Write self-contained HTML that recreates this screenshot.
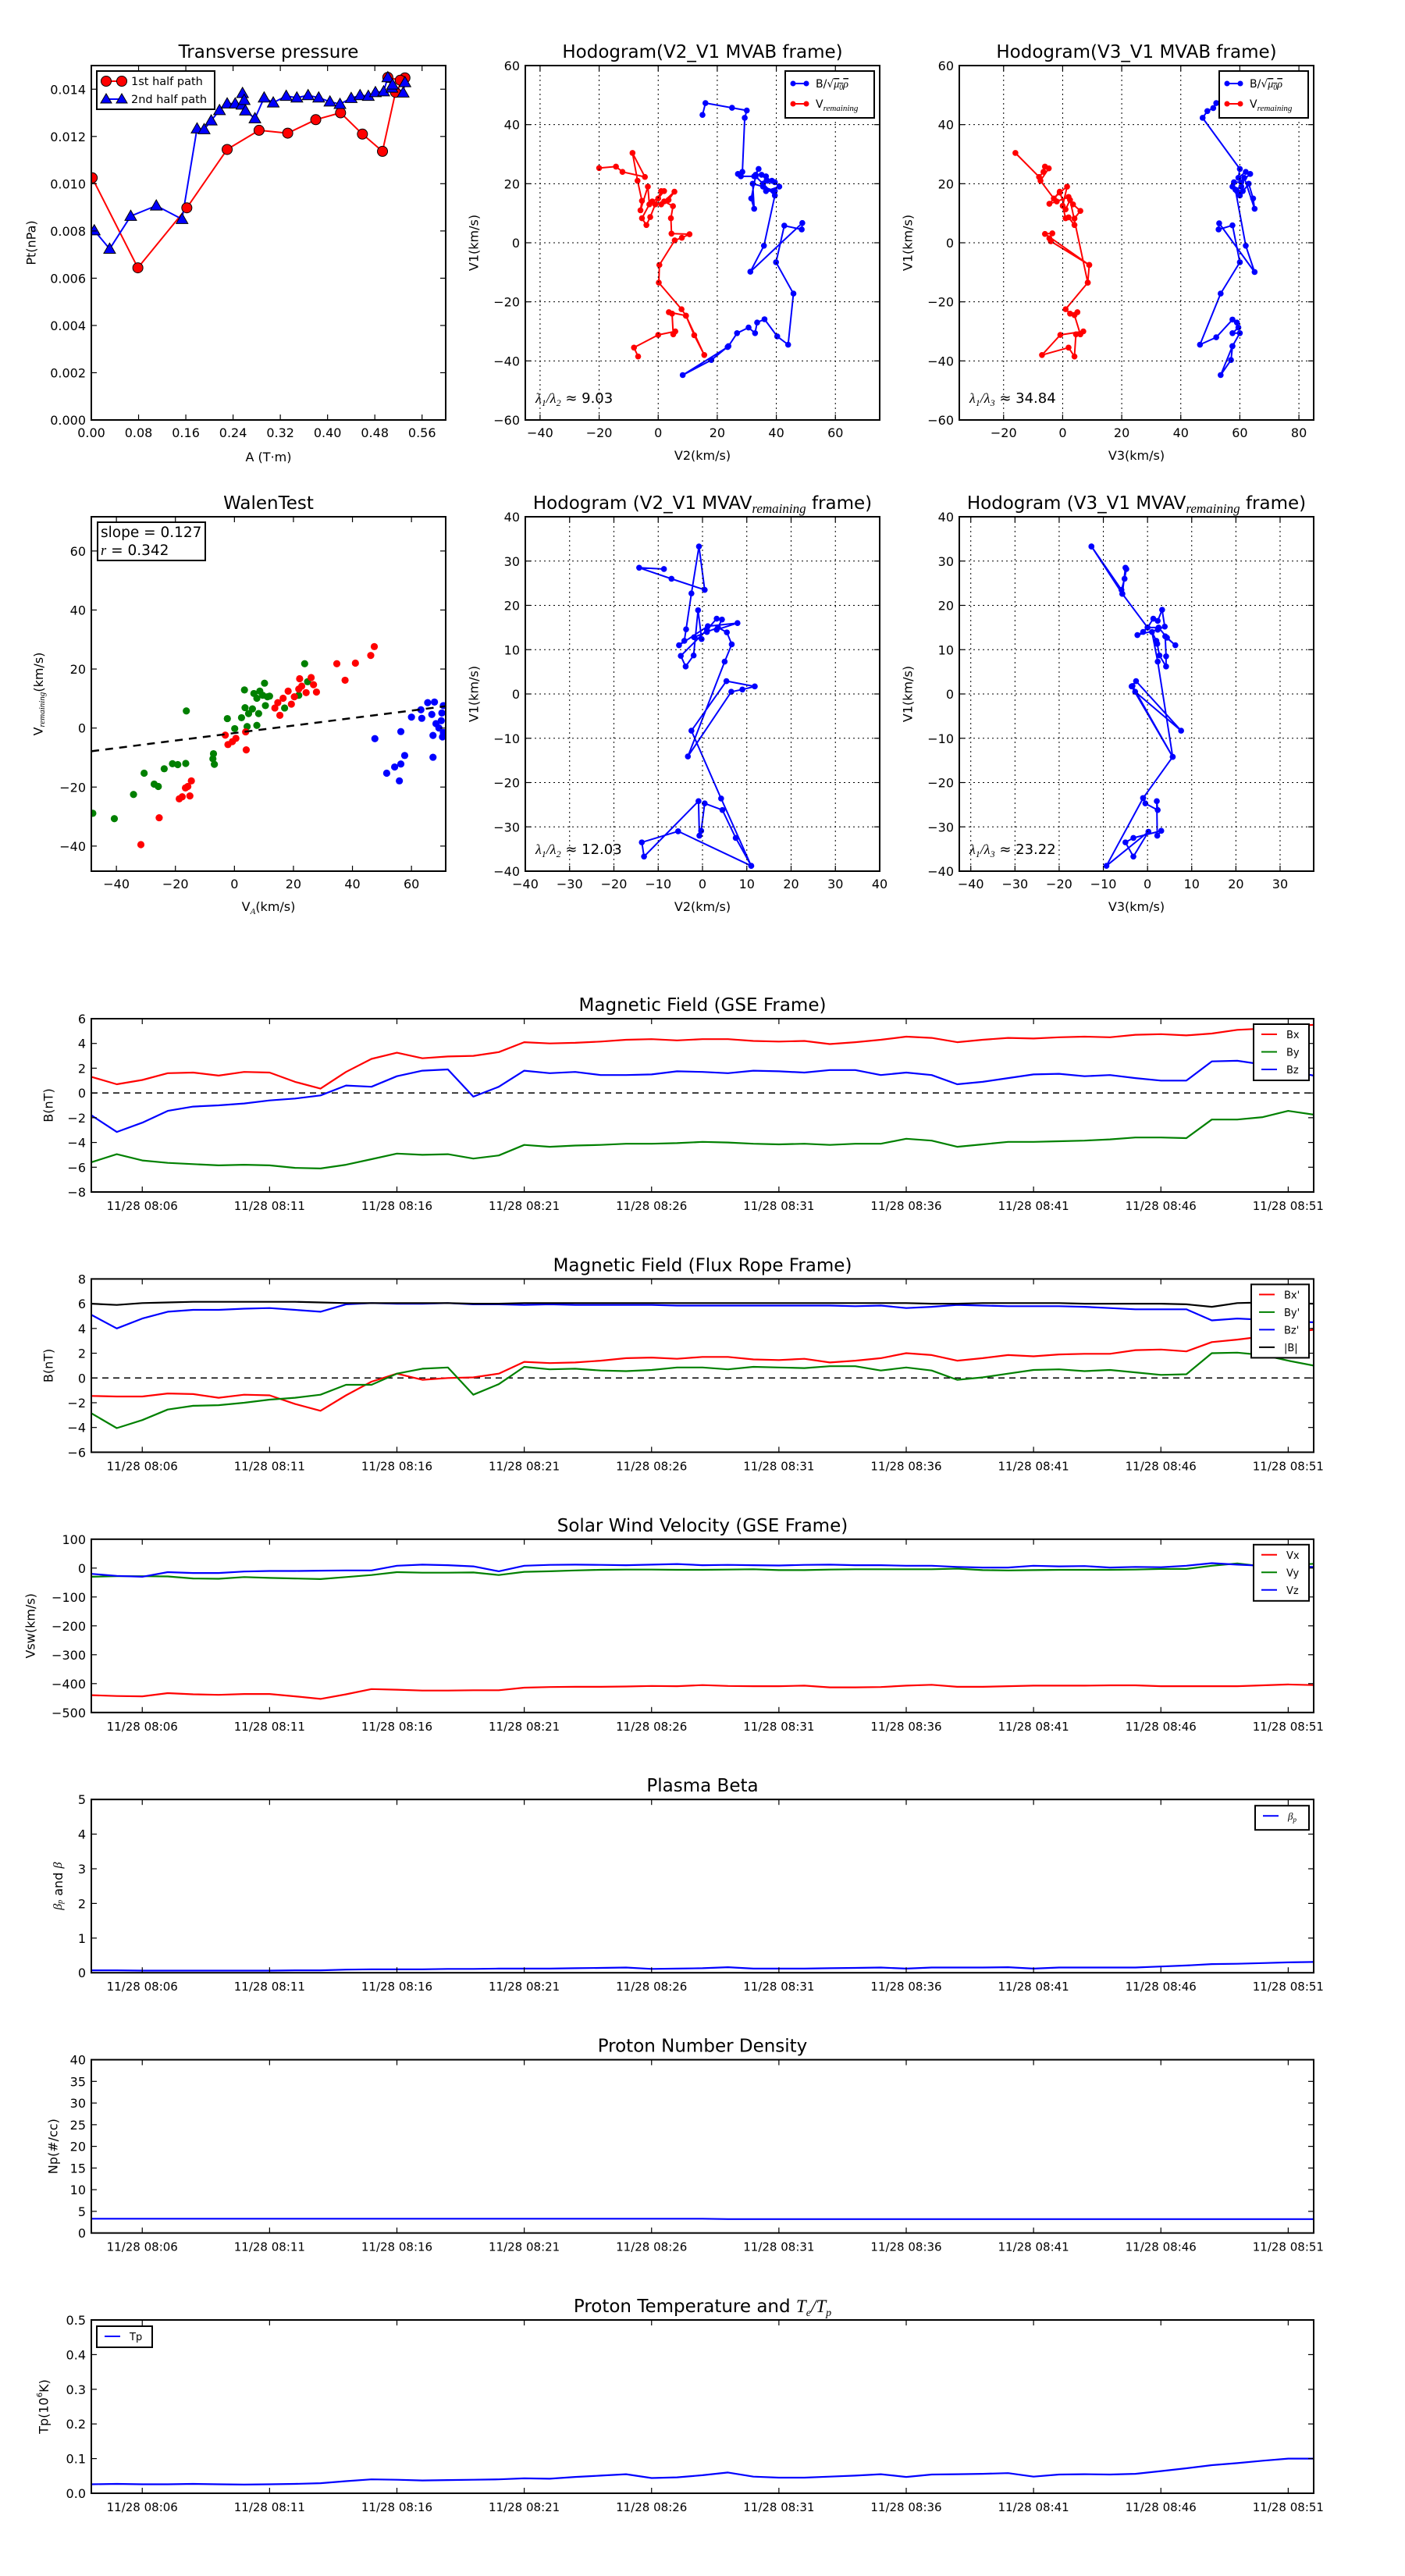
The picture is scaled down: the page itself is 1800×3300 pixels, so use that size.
<!DOCTYPE html>
<html><head><meta charset="utf-8"><title>Flux rope analysis</title>
<style>
html,body{margin:0;padding:0;background:#fff;}
svg{display:block;font-family:"DejaVu Sans","Liberation Sans",sans-serif;}
</style></head>
<body>
<svg id="fig" xmlns="http://www.w3.org/2000/svg" width="1800" height="3300" viewBox="0 0 1800 3300">
<rect x="0" y="0" width="1800" height="3300" fill="#fff"/>
</svg>
<script>
// ---------- data: transverse pressure ----------
const ptA1 = [0.0015,0.0788,0.1617,0.230,0.284,0.3325,0.380,0.422,0.459,0.493,0.515,0.531,0.523,0.502];
const ptP1 = [0.01025,0.00644,0.00898,0.01145,0.01226,0.01214,0.01271,0.0130,0.0121,0.01137,0.01387,0.01448,0.01438,0.0145];
const ptA2 = [0.005,0.031,0.0667,0.110,0.1536,0.179,0.191,0.203,0.217,0.230,0.2436,0.255,0.256,0.2588,0.261,0.277,0.2926,0.308,0.33,0.348,0.367,0.385,0.404,0.421,0.44,0.455,0.469,0.481,0.495,0.502,0.509,0.51,0.528,0.531];
const ptP2 = [0.00802,0.00724,0.00863,0.00907,0.0085,0.01233,0.0123,0.01267,0.01311,0.01339,0.01339,0.01334,0.01383,0.01354,0.01309,0.01276,0.01364,0.01343,0.01371,0.01364,0.01374,0.01364,0.01347,0.01337,0.01362,0.01374,0.01371,0.01387,0.0139,0.0145,0.01406,0.01419,0.01385,0.01429];
// ---------- data: MVAB hodograms ----------
const h1BlueX = [15,16,25,30,29.3,28.5,27,28,32.5,34,33,35,36.5,35.5,37,38.5,39.5,41,36.5,39.5,35.5,32,32.5,31.5,33,39.5,35.8,31.2,48.8,48.6,42.7,39.9,45.8,44,40.3,36,33.5,32.8,30.6,26.7,23.8,18,8.3,23.5];
const h1BlueY = [43.3,47.3,45.7,44.8,42.3,24,23.3,22.5,22.5,25,23,23,22.5,20,21,21,20.5,19,17.5,17.5,19,20,11.5,15,22.5,16,-1,-9.8,6.7,4.5,5.8,-6.6,-17.2,-34.5,-31.7,-25.9,-27,-30.6,-28.7,-30.6,-35,-39.7,-44.8,-35.3];
const h1RedX = [-20,-14.3,-12.1,-4.5,-8.7,-7,-5.5,-6,-3.5,-3,-5.5,-4,-2.7,-1,1,2,0,-2,1,3.5,5.5,2,5,4.3,4.5,10.6,8,5.6,0.4,0.2,7.9,9.4,12.2,15.6,9.4,3.6,4.7,5.1,5.8,0,-8.2,-6.8];
const h1RedY = [25.3,25.8,24,22.3,30.4,21,14.2,11,19,13,8.3,6,8.7,13,17.5,17.5,15,14,13,14.5,17.3,14,12.4,8.3,3.1,2.9,1.7,0.8,-7.5,-13.5,-22.5,-24.7,-31.3,-38,-24.7,-23.5,-24,-31,-30,-31.2,-35.5,-38.5];
const h2BlueX = [53.5,52,51,49,47.4,60,59.5,62,63.5,60.5,58,57.5,59,61,60,63,64.5,65,61.5,60.5,58.5,62,65,53,52.8,57.5,60,53.5,46.5,52,57.5,59,59.5,57.5,60,57.5,57,53.5,57.5];
const h2BlueY = [47.6,47.3,45.6,44.6,42.3,25,22,24,23.3,20.5,20.5,19,17.5,17.5,16,20,15,11.5,22,19,18,-1,-9.9,6.6,4.5,5.9,-6.6,-17.2,-34.5,-32,-26,-27,-28.7,-30.6,-30.6,-35,-39.7,-44.8,-35];
const h2RedX = [-16,-8,-6.5,-6,-4.7,-7.5,-3,-1,1.5,0,1,2,4,4,6,3.5,2,-2,-4.5,-1,1,2.5,8.5,9,-6,-3.5,-4.5,-4,9,8.5,1,2.5,5,4,6,7,-0.8,-7,2,4,4.5];
const h2RedY = [30.4,22.3,24,25.8,25.2,21,15,17,19,12.5,8.3,8.6,6,8.2,10.8,13,15.5,14,13.2,17.3,11.3,14.5,-13.5,-7.5,3,3.2,1.5,0.5,-7.5,-13.5,-22.5,-24,-23.5,-24.5,-31,-30,-31.2,-38,-35.5,-38.5,-31];
// ---------- data: Walen test ----------
const walGreenX = [-48,-40.7,-34.2,-30.6,-27.2,-25.8,-23.8,-21,-19.2,-16.5,-16.3,-7.1,-7.3,-6.8,-2.4,0.1,2.4,3.6,4.3,4.8,6.1,7.6,8.2,3.4,6.6,7.6,8.6,9.6,10.2,10.5,11.2,11.9,17,21.8,23.8,24.8];
const walGreenY = [-28.9,-30.7,-22.5,-15.3,-19,-19.8,-13.8,-12.1,-12.4,-12,5.8,-8.7,-10.4,-12.3,3.2,-0.2,3.5,6.9,0.5,4.9,6.5,0.9,4.9,12.9,11.7,10.1,12.5,11.1,15.2,7.6,10.6,10.8,6.8,11.1,21.8,15.7];
const walRedX = [-31.7,-25.5,-18.7,-17.7,-16.6,-15.1,-14.6,-15.8,-3.1,-2.2,-0.7,0.5,3.8,4,13.7,14.7,15.4,16.5,18.2,19.3,20.3,21.8,22.1,22.8,24.3,26,26.8,27.8,34.7,37.5,41,46.2,47.4];
const walRedY = [-39.5,-30.4,-24,-23.3,-20.3,-23,-17.9,-19.8,-2.4,-5.6,-4.6,-3.5,-1.3,-7.4,6.8,8.6,4.3,10.1,12.5,8.1,10.6,13.2,16.7,14.2,12,17.1,14.7,12.2,21.8,16.2,22,24.6,27.6];
const walBlueX = [47.6,51.6,54.3,55.9,56.4,57.7,56.4,60,63.2,63.5,65.5,66.9,67.8,67.3,67.3,68.3,69.3,70.3,70.8,70.8,70.5,70.1];
const walBlueY = [-3.6,-15.3,-13.2,-17.9,-12.2,-9.3,-1.2,3.7,6.2,3.3,8.6,4.6,8.8,-2.5,-9.9,1.5,0,5.1,-1.5,7.6,-3,2.5];
const walSlope = 0.127;
const walIntercept = -1.7;
// ---------- data: MVAV hodograms ----------
const h3X = [11,7.5,4.5,0.5,-0.3,-0.7,-0.9,-13.2,-13.7,-5.5,11,4.2,-2.5,5.4,11.8,9,6.5,-3.3,5,6.6,5.5,3.5,1,-1.9,-0.2,-1,-2,-3.8,-4.9,1,3.2,4.4,3.2,7.9,1.2,-5.3,-4.1,-3.7,-2.5,-0.8,0.5,-7,-14.3,-8.7];
const h3Y = [-38.8,-32.5,-26.2,-24.7,-30.9,-32,-24.2,-36.7,-33.5,-31,-38.8,-23.6,-8.3,2.9,1.7,1,0.5,-14.1,7.3,11.2,13.9,15,14,12.8,12.4,18.9,8.7,6.2,8.6,14.5,17,16.8,14.5,16,15.3,11,12,14.6,22.7,33.3,23.5,26,28.5,28.2];
const h4X = [-12.7,-5.9,-5.2,-4.8,-5,-5.7,-12.7,-5.7,0,1.3,2.3,3.3,3.9,2.3,-2.3,-1,0,2.5,4.4,6.3,4,4.2,4.2,2.7,2.2,2,1,2.3,5.7,-3.6,-2.6,7.6,-2.8,-3.4,5.7,-1,-0.5,2.3,2.1,2.2,3.1,-3.2,-5,-3.2,0.2,-9.3,-1];
const h4Y = [33.3,23.5,26,28.2,28.5,22.6,33.3,22.6,15,17,16.5,19,15.2,14.5,13.3,14,15,15,12.7,11,13,8.5,6.2,8.7,11.3,12,14,7.3,-14.2,1.7,2.9,-8.3,0.5,1.8,-14.2,-23.5,-24.7,-26.2,-24.2,-32,-30.9,-32.5,-33.5,-36.7,-31.1,-38.8,-23.5];
// ---------- data: time series (minutes after 08:04) ----------
const tickMinutes = [2,7,12,17,22,27,32,37,42,47];
const tickLabels = ["11/28 08:06","11/28 08:11","11/28 08:16","11/28 08:21","11/28 08:26","11/28 08:31","11/28 08:36","11/28 08:41","11/28 08:46","11/28 08:51"];
const gseBx = [1.3,0.7,1.05,1.6,1.65,1.4,1.7,1.65,0.9,0.35,1.7,2.75,3.25,2.8,2.95,3.0,3.3,4.1,4.0,4.05,4.15,4.3,4.35,4.25,4.35,4.35,4.2,4.15,4.2,3.95,4.1,4.3,4.55,4.45,4.1,4.3,4.45,4.4,4.5,4.55,4.5,4.7,4.75,4.65,4.8,5.1,5.2,5.4,5.5];
const gseBy = [-5.6,-4.95,-5.45,-5.65,-5.75,-5.85,-5.8,-5.85,-6.05,-6.1,-5.8,-5.35,-4.9,-5.0,-4.95,-5.3,-5.05,-4.2,-4.35,-4.25,-4.2,-4.1,-4.1,-4.05,-3.95,-4.0,-4.1,-4.15,-4.1,-4.2,-4.1,-4.1,-3.7,-3.85,-4.35,-4.15,-3.95,-3.95,-3.9,-3.85,-3.75,-3.6,-3.6,-3.65,-2.15,-2.15,-1.95,-1.45,-1.75];
const gseBz = [-1.8,-3.15,-2.4,-1.45,-1.1,-1.0,-0.85,-0.6,-0.45,-0.2,0.6,0.5,1.35,1.8,1.9,-0.3,0.5,1.8,1.6,1.7,1.45,1.45,1.5,1.75,1.7,1.6,1.8,1.75,1.65,1.85,1.85,1.45,1.65,1.45,0.7,0.9,1.2,1.5,1.55,1.35,1.45,1.2,1.0,1.0,2.55,2.6,2.3,1.8,1.4];
const frBx = [-1.45,-1.5,-1.5,-1.25,-1.3,-1.6,-1.35,-1.4,-2.1,-2.65,-1.4,-0.3,0.35,-0.15,0.0,0.05,0.35,1.3,1.2,1.25,1.4,1.6,1.65,1.55,1.7,1.7,1.5,1.45,1.55,1.25,1.4,1.6,2.0,1.85,1.4,1.6,1.85,1.75,1.9,1.95,1.95,2.25,2.3,2.15,2.9,3.1,3.35,3.6,3.9];
const frBy = [-2.85,-4.05,-3.4,-2.55,-2.25,-2.2,-2.0,-1.75,-1.6,-1.35,-0.55,-0.55,0.35,0.75,0.85,-1.35,-0.5,0.9,0.7,0.75,0.6,0.55,0.65,0.85,0.85,0.7,0.9,0.85,0.8,0.95,0.95,0.6,0.85,0.6,-0.15,0.05,0.35,0.65,0.7,0.55,0.65,0.45,0.25,0.3,2.0,2.05,1.85,1.4,1.0];
const frBz = [5.1,4.0,4.8,5.35,5.5,5.5,5.6,5.65,5.5,5.35,5.95,6.05,6.0,6.0,6.05,5.95,5.95,5.9,5.95,5.9,5.9,5.9,5.9,5.85,5.85,5.85,5.85,5.85,5.85,5.85,5.8,5.85,5.65,5.75,5.9,5.85,5.8,5.8,5.8,5.75,5.65,5.55,5.55,5.55,4.65,4.8,4.7,4.55,4.5];
const frBmag = [6.0,5.9,6.05,6.1,6.15,6.15,6.15,6.15,6.15,6.1,6.05,6.05,6.05,6.05,6.05,6.0,6.0,6.05,6.05,6.05,6.05,6.05,6.05,6.05,6.05,6.05,6.05,6.05,6.05,6.05,6.05,6.05,6.05,6.0,6.0,6.05,6.05,6.05,6.05,6.0,6.0,6.0,6.0,5.95,5.75,6.05,6.1,6.05,6.0];
const swVx = [-440,-443,-444,-433,-437,-439,-436,-436,-444,-453,-437,-419,-421,-424,-424,-423,-423,-414,-412,-411,-411,-410,-408,-409,-405,-408,-409,-409,-407,-413,-413,-412,-407,-404,-411,-411,-409,-407,-407,-407,-406,-406,-409,-409,-409,-409,-406,-403,-405];
const swVy = [-30,-28,-28,-29,-36,-37,-31,-34,-36,-38,-31,-24,-14,-16,-16,-15,-24,-13,-11,-8,-6,-5,-5,-6,-6,-5,-4,-7,-7,-5,-4,-4,-4,-4,-2,-7,-8,-7,-6,-6,-6,-5,-3,-3,8,16,6,10,15];
const swVz = [-20,-27,-30,-14,-17,-17,-12,-10,-10,-9,-8,-8,8,12,10,6,-11,8,11,12,11,10,12,14,10,11,10,9,11,12,10,10,8,8,4,2,2,8,6,7,2,4,3,8,17,12,8,5,4];
const betaP = [0.07,0.07,0.06,0.06,0.06,0.06,0.06,0.06,0.07,0.07,0.09,0.10,0.10,0.10,0.11,0.11,0.12,0.12,0.12,0.13,0.14,0.15,0.11,0.12,0.13,0.16,0.12,0.12,0.12,0.13,0.14,0.15,0.12,0.15,0.15,0.15,0.16,0.12,0.15,0.15,0.15,0.15,0.18,0.21,0.25,0.26,0.28,0.30,0.31];
const densNp = [3.3,3.3,3.3,3.3,3.3,3.3,3.3,3.3,3.3,3.3,3.3,3.3,3.3,3.3,3.3,3.3,3.3,3.3,3.3,3.3,3.3,3.3,3.3,3.3,3.3,3.2,3.2,3.2,3.2,3.2,3.2,3.2,3.2,3.2,3.2,3.2,3.2,3.2,3.2,3.2,3.2,3.2,3.2,3.2,3.2,3.2,3.2,3.2,3.2];
const tempTp = [0.026,0.027,0.026,0.026,0.027,0.026,0.025,0.026,0.027,0.029,0.035,0.040,0.039,0.037,0.038,0.039,0.040,0.043,0.042,0.047,0.051,0.055,0.044,0.046,0.052,0.060,0.048,0.045,0.045,0.048,0.051,0.055,0.047,0.054,0.055,0.056,0.058,0.048,0.054,0.055,0.054,0.056,0.064,0.072,0.081,0.087,0.094,0.100,0.100];

// ---------- drawing helpers ----------
const NS = "http://www.w3.org/2000/svg";
const fig = document.getElementById('fig');
let clipId = 0;
function mk(tag, attrs, parent) {
  const e = document.createElementNS(NS, tag);
  for (const k in attrs) e.setAttribute(k, attrs[k]);
  (parent || fig).appendChild(e);
  return e;
}
function fmt(v, d) { const s = v.toFixed(d); return s.replace('-', '\u2212'); }
function txt(parent, x, y, s, size, anchor, name, extra) {
  const t = mk('text', Object.assign({x: x, y: y, 'font-size': size, 'text-anchor': anchor || 'middle', fill: '#000'}, extra || {}), parent);
  
  
  t.innerHTML = s;
  return t;
}
function makeAxes(name, x0, y0, w, h, xmin, xmax, ymin, ymax) {
  const g = mk('g', {});
  
  
  const sx = v => x0 + (v - xmin) / (xmax - xmin) * w;
  const sy = v => y0 + h - (v - ymin) / (ymax - ymin) * h;
  clipId++;
  const cp = mk('clipPath', {id: 'clip' + clipId}, g);
  mk('rect', {x: x0, y: y0, width: w, height: h}, cp);
  const plot = mk('g', {'clip-path': 'url(#clip' + clipId + ')'}, g);
  
  
  return {g, plot, sx, sy, x0, y0, w, h};
}
function xTicks(ax, vals, labels, size, grid, dy) {
  vals.forEach((v, i) => {
    const x = ax.sx(v);
    if (grid) {
      const gl = mk('line', {x1: x, y1: ax.y0, x2: x, y2: ax.y0 + ax.h, stroke: '#000', 'stroke-width': 1, 'stroke-dasharray': '2,4'}, ax.g);
      
      
    }
    const t1 = mk('line', {x1: x, y1: ax.y0 + ax.h, x2: x, y2: ax.y0 + ax.h - 7, stroke: '#000', 'stroke-width': 1.2}, ax.g);
    
    
    const t2 = mk('line', {x1: x, y1: ax.y0, x2: x, y2: ax.y0 + 7, stroke: '#000', 'stroke-width': 1.2}, ax.g);
    
    
    txt(ax.g, x, ax.y0 + ax.h + (dy || 22), labels[i], size, 'middle', 'x-tick-label');
  });
}
function yTicks(ax, vals, labels, size, grid) {
  vals.forEach((v, i) => {
    const y = ax.sy(v);
    if (grid) {
      const gl = mk('line', {x1: ax.x0, y1: y, x2: ax.x0 + ax.w, y2: y, stroke: '#000', 'stroke-width': 1, 'stroke-dasharray': '2,4'}, ax.g);
      
      
    }
    const t1 = mk('line', {x1: ax.x0, y1: y, x2: ax.x0 + 7, y2: y, stroke: '#000', 'stroke-width': 1.2}, ax.g);
    
    
    const t2 = mk('line', {x1: ax.x0 + ax.w, y1: y, x2: ax.x0 + ax.w - 7, y2: y, stroke: '#000', 'stroke-width': 1.2}, ax.g);
    
    
    txt(ax.g, ax.x0 - 7, y + 6, labels[i], size, 'end', 'y-tick-label');
  });
}
function frame(ax) {
  const r = mk('rect', {x: ax.x0, y: ax.y0, width: ax.w, height: ax.h, fill: 'none', stroke: '#000', 'stroke-width': 2}, ax.g);
  
  
}
function titles(ax, title, xl, yl, yoff, xoff) {
  txt(ax.g, ax.x0 + ax.w / 2, ax.y0 - 10, title, 23, 'middle', 'chart-title');
  if (xl) txt(ax.g, ax.x0 + ax.w / 2, ax.y0 + ax.h + (xoff || 53), xl, 16, 'middle', 'x-axis-title');
  const cx = ax.x0 - yoff, cy = ax.y0 + ax.h / 2;
  txt(ax.g, cx, cy, yl, 16, 'middle', 'y-axis-title', {transform: 'rotate(-90 ' + cx + ' ' + cy + ')', 'dominant-baseline': 'middle'});
}
function series(ax, xs, ys, color, name, width) {
  const pts = xs.map((x, i) => ax.sx(x).toFixed(1) + ',' + ax.sy(ys[i]).toFixed(1)).join(' ');
  const p = mk('polyline', {points: pts, fill: 'none', stroke: color, 'stroke-width': width || 2, 'stroke-linejoin': 'round'}, ax.plot);
  
  
  return p;
}
function dots(ax, xs, ys, color, r, name, stroke) {
  xs.forEach((x, i) => {
    const c = mk('circle', {cx: ax.sx(x), cy: ax.sy(ys[i]), r: r, fill: color, stroke: stroke || 'none', 'stroke-width': 1}, ax.plot);
    
    
  });
}
function tris(ax, xs, ys, color, s, name) {
  xs.forEach((x, i) => {
    const cx = ax.sx(x), cy = ax.sy(ys[i]);
    const t = mk('polygon', {points: (cx) + ',' + (cy - s) + ' ' + (cx - s) + ',' + (cy + s * 0.75) + ' ' + (cx + s) + ',' + (cy + s * 0.75), fill: color, stroke: '#000', 'stroke-width': 1}, ax.plot);
    
    
  });
}
function range(a, b, s) { const r = []; for (let v = a; v <= b + 1e-9; v += s) r.push(Math.round(v * 1e6) / 1e6); return r; }
function legendBox(ax, x, y, w, h, name) {
  const g = mk('g', {}, ax.g);
  
  
  mk('rect', {x: x, y: y, width: w, height: h, fill: '#fff', stroke: '#000', 'stroke-width': 2}, g);
  return g;
}
function legLine(g, x, y, len, color, label, size, marker, name) {
  const e = mk('g', {}, g);
  
  
  mk('line', {x1: x, y1: y, x2: x + len, y2: y, stroke: color, 'stroke-width': 2}, e);
  if (marker === 'dot') { mk('circle', {cx: x, cy: y, r: 3.5, fill: color}, e); mk('circle', {cx: x + len, cy: y, r: 3.5, fill: color}, e); }
  if (marker === 'big') { mk('circle', {cx: x, cy: y, r: 6.5, fill: color, stroke: '#000'}, e); mk('circle', {cx: x + len, cy: y, r: 6.5, fill: color, stroke: '#000'}, e); }
  if (marker === 'tri') { [x, x + len].forEach(cx => mk('polygon', {points: cx + ',' + (y - 7) + ' ' + (cx - 7) + ',' + (y + 5) + ' ' + (cx + 7) + ',' + (y + 5), fill: color, stroke: '#000'}, e)); }
  const t = mk('text', {x: x + len + 12, y: y + 5, 'font-size': size, fill: '#000'}, e);
  t.innerHTML = label;
}
const SUBR = '<tspan font-family="Liberation Serif,serif" font-style="italic" font-size="11" dy="4">remaining</tspan>';
const BMU = 'B/\u221A<tspan font-family="Liberation Serif,serif" font-style="italic" text-decoration="overline">\u03BC<tspan font-size="10" dy="3">0</tspan><tspan dy="-3">\u03C1</tspan></tspan>';

// ---------- Panel 1: transverse pressure ----------
(function () {
  const ax = makeAxes('transverse-pressure-chart', 117, 84, 454, 454, 0, 0.6, 0, 0.015);
  series(ax, ptA1, ptP1, '#f00', 'first-half-path-line', 2);
  series(ax, ptA2, ptP2, '#00f', 'second-half-path-line', 2);
  dots(ax, ptA1, ptP1, '#f00', 6.5, 'first-half-point', '#000');
  tris(ax, ptA2, ptP2, '#00f', 7.5, 'second-half-point');
  frame(ax);
  const xv = range(0, 0.56, 0.08);
  xTicks(ax, xv, xv.map(v => v.toFixed(2)), 16, false);
  const yv = range(0, 0.014, 0.002);
  yTicks(ax, yv, yv.map(v => v.toFixed(3)), 16, false);
  titles(ax, 'Transverse pressure', 'A (T\u00B7m)', 'Pt(nPa)', 76);
  const lg = legendBox(ax, 124, 91, 151, 49, 'legend');
  legLine(lg, 136, 104, 20, '#f00', '1st half path', 14.5, 'big', 'legend-entry-1st-half');
  legLine(lg, 136, 127, 20, '#00f', '2nd half path', 14.5, 'tri', 'legend-entry-2nd-half');
})();

function hodo(name, x0, y0, xmin, xmax, ymin, ymax, xt, yt, blueX, blueY, redX, redY, title, xl, lam, legend) {
  const ax = makeAxes(name, x0, y0, 454, 454, xmin, xmax, ymin, ymax);
  xTicks(ax, xt, xt.map(v => fmt(v, 0)), 16, true);
  yTicks(ax, yt, yt.map(v => fmt(v, 0)), 16, true);
  if (redX) { series(ax, redX, redY, '#f00', 'v-remaining-line', 2); dots(ax, redX, redY, '#f00', 3.8, 'v-remaining-point'); }
  series(ax, blueX, blueY, '#00f', 'b-alfven-line', 2);
  dots(ax, blueX, blueY, '#00f', 3.8, 'b-alfven-point');
  frame(ax);
  titles(ax, title, xl, 'V1(km/s)', 65, 51);
  txt(ax.g, x0 + 13, y0 + 432, lam, 18, 'start', 'eigenvalue-ratio-label');
  if (legend) {
    const lg = legendBox(ax, x0 + 333, y0 + 7, 114, 60, 'legend');
    legLine(lg, x0 + 343, y0 + 23, 17, '#00f', BMU, 14, 'dot', 'legend-entry-b');
    legLine(lg, x0 + 343, y0 + 49, 17, '#f00', 'V' + SUBR, 14, 'dot', 'legend-entry-v-remaining');
  }
  return ax;
}
const LAM = (a, b, v) => '<tspan font-family="Liberation Serif,serif" font-style="italic">\u03BB<tspan font-size="12" dy="4">' + a + '</tspan><tspan dy="-4">/\u03BB</tspan><tspan font-size="12" dy="4">' + b + '</tspan></tspan><tspan dy="-4"> \u2248 ' + v + '</tspan>';
hodo('hodogram-v2-v1-mvab', 673, 84, -45, 75, -60, 60, range(-40, 60, 20), range(-60, 60, 20), h1BlueX, h1BlueY, h1RedX, h1RedY, 'Hodogram(V2_V1 MVAB frame)', 'V2(km/s)', LAM(1, 2, '9.03'), true);
hodo('hodogram-v3-v1-mvab', 1229, 84, -35, 85, -60, 60, range(-20, 80, 20), range(-60, 60, 20), h2BlueX, h2BlueY, h2RedX, h2RedY, 'Hodogram(V3_V1 MVAB frame)', 'V3(km/s)', LAM(1, 3, '34.84'), true);
hodo('hodogram-v2-v1-mvav', 673, 662, -40, 40, -40, 40, range(-40, 40, 10), range(-40, 40, 10), h3X, h3Y, null, null, 'Hodogram (V2_V1 MVAV<tspan font-family="Liberation Serif,serif" font-style="italic" font-size="17" dy="5">remaining</tspan><tspan dy="-5"> frame)</tspan>', 'V2(km/s)', LAM(1, 2, '12.03'), false);
hodo('hodogram-v3-v1-mvav', 1229, 662, -42.6, 37.6, -40, 40, range(-40, 30, 10), range(-40, 40, 10), h4X, h4Y, null, null, 'Hodogram (V3_V1 MVAV<tspan font-family="Liberation Serif,serif" font-style="italic" font-size="17" dy="5">remaining</tspan><tspan dy="-5"> frame)</tspan>', 'V3(km/s)', LAM(1, 3, '23.22'), false);

// ---------- Walen test ----------
(function () {
  const ax = makeAxes('walen-test-chart', 117, 662, 454, 454, -48.5, 71.6, -48.5, 71.6);
  dots(ax, walGreenX, walGreenY, '#008000', 4.6, 'walen-green-point');
  dots(ax, walRedX, walRedY, '#f00', 4.6, 'walen-red-point');
  dots(ax, walBlueX, walBlueY, '#00f', 4.6, 'walen-blue-point');
  const fx = [-48.5, 71.6];
  const l = mk('line', {x1: ax.sx(fx[0]), y1: ax.sy(walSlope * fx[0] + walIntercept), x2: ax.sx(fx[1]), y2: ax.sy(walSlope * fx[1] + walIntercept), stroke: '#000', 'stroke-width': 2.5, 'stroke-dasharray': '10,8'}, ax.plot);
  
  
  frame(ax);
  const xv = range(-40, 60, 20);
  xTicks(ax, xv, xv.map(v => fmt(v, 0)), 16, false);
  yTicks(ax, xv, xv.map(v => fmt(v, 0)), 16, false);
  titles(ax, 'WalenTest', 'V<tspan font-family="Liberation Serif,serif" font-style="italic" font-size="11" dy="4">A</tspan><tspan dy="-4">(km/s)</tspan>', 'V' + SUBR + '<tspan dy="-4">(km/s)</tspan>', 67, 51);
  const lg = legendBox(ax, 125, 669, 138, 49, 'fit-statistics-box');
  txt(lg, 129, 688, 'slope = 0.127', 18.5, 'start', 'slope-label');
  txt(lg, 129, 711, '<tspan font-family="Liberation Serif,serif" font-style="italic">r</tspan> = 0.342', 18.5, 'start', 'r-label');
})();

// ---------- time series ----------
function ts(name, k, ymin, ymax, yvals, ydec, title, ylabel, yoff, lines, zero, legend) {
  const top = 1305 + k * 333.4;
  const ax = makeAxes(name, 117, top, 1566, 222, 0, 48, ymin, ymax);
  if (zero) {
    const z = mk('line', {x1: ax.x0, y1: ax.sy(0), x2: ax.x0 + ax.w, y2: ax.sy(0), stroke: '#000', 'stroke-width': 1.5, 'stroke-dasharray': '8,6'}, ax.plot);
    
    
  }
  lines.forEach(L => series(ax, L.v.map((_, i) => i), L.v, L.c, L.n, 2.2));
  frame(ax);
  xTicks(ax, tickMinutes, tickLabels, 15, false, 23);
  yTicks(ax, yvals, yvals.map(v => fmt(v, ydec)), 16, false);
  titles(ax, title, null, ylabel, yoff);
  if (legend) {
    const lg = legendBox(ax, legend.x, top + legend.dy, legend.w, legend.h, 'legend');
    lines.forEach((L, i) => legLine(lg, legend.x + 10, top + legend.dy + 13 + i * legend.step, 20, L.c, L.label, 13, null, 'legend-entry-' + L.n));
  }
}
ts('magnetic-field-gse-chart', 0, -8, 6, range(-8, 6, 2), 0, 'Magnetic Field (GSE Frame)', 'B(nT)', 54,
  [{v: gseBx, c: '#f00', n: 'bx-line', label: 'Bx'}, {v: gseBy, c: '#008000', n: 'by-line', label: 'By'}, {v: gseBz, c: '#00f', n: 'bz-line', label: 'Bz'}], true,
  {x: 1606, dy: 7, w: 71, h: 72, step: 22.5});
ts('magnetic-field-flux-rope-chart', 1, -6, 8, range(-6, 8, 2), 0, 'Magnetic Field (Flux Rope Frame)', 'B(nT)', 54,
  [{v: frBx, c: '#f00', n: 'bx-prime-line', label: "Bx'"}, {v: frBy, c: '#008000', n: 'by-prime-line', label: "By'"}, {v: frBz, c: '#00f', n: 'bz-prime-line', label: "Bz'"}, {v: frBmag, c: '#000', n: 'b-magnitude-line', label: '|B|'}], true,
  {x: 1603, dy: 7, w: 74, h: 94, step: 22.5});
ts('solar-wind-velocity-chart', 2, -500, 100, range(-500, 100, 100), 0, 'Solar Wind Velocity (GSE Frame)', 'Vsw(km/s)', 77,
  [{v: swVx, c: '#f00', n: 'vx-line', label: 'Vx'}, {v: swVy, c: '#008000', n: 'vy-line', label: 'Vy'}, {v: swVz, c: '#00f', n: 'vz-line', label: 'Vz'}], false,
  {x: 1606, dy: 7, w: 71, h: 72, step: 22.5});
ts('plasma-beta-chart', 3, 0, 5, range(0, 5, 1), 0, 'Plasma Beta', '<tspan font-family="Liberation Serif,serif" font-style="italic">\u03B2<tspan font-size="10" dy="3">p</tspan></tspan><tspan dy="-3"> and </tspan><tspan font-family="Liberation Serif,serif" font-style="italic">\u03B2</tspan>', 42,
  [{v: betaP, c: '#00f', n: 'beta-p-line', label: '<tspan font-family="Liberation Serif,serif" font-style="italic">\u03B2<tspan font-size="9" dy="3">p</tspan></tspan>'}], false,
  {x: 1608, dy: 8, w: 69, h: 31, step: 22});
ts('proton-density-chart', 4, 0, 40, range(0, 40, 5), 0, 'Proton Number Density', 'Np(#/cc)', 48,
  [{v: densNp, c: '#00f', n: 'np-line', label: 'Np'}], false, null);
ts('proton-temperature-chart', 5, 0, 0.5, range(0, 0.5, 0.1), 1, 'Proton Temperature and <tspan font-family="Liberation Serif,serif" font-style="italic">T<tspan font-size="14" dy="5">e</tspan><tspan dy="-5">/T</tspan><tspan font-size="14" dy="5">p</tspan></tspan>', 'Tp(10<tspan font-size="10" dy="-6">6</tspan><tspan dy="6">K)</tspan>', 60,
  [{v: tempTp, c: '#00f', n: 'tp-line', label: 'Tp'}], false,
  {x: 124, dy: 8, w: 71, h: 27, step: 22});
</script>
</body></html>
